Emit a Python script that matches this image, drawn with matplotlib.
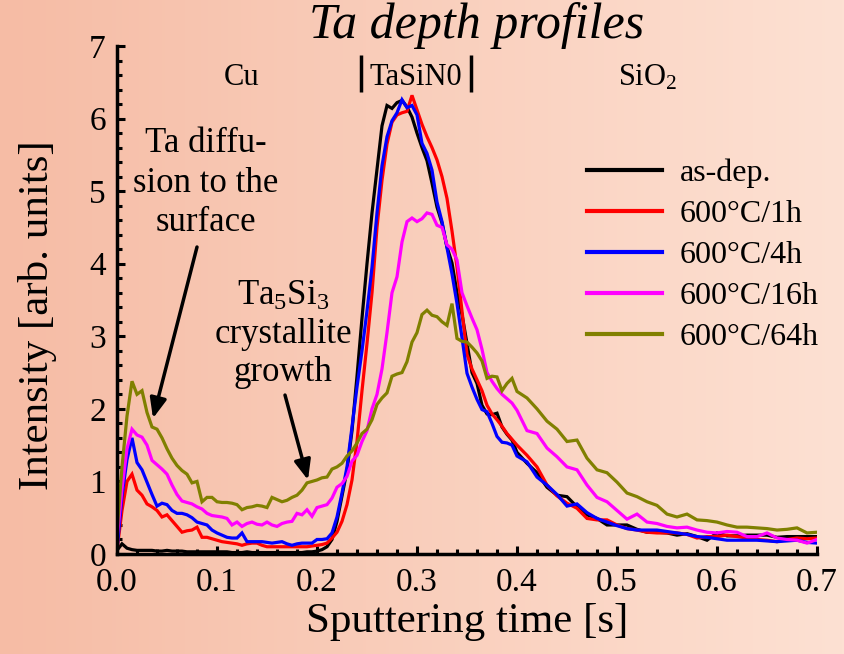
"""Ta depth profiles for TaSiN0 barrier after 600 C anneals."""

import matplotlib

matplotlib.use("Agg")
import matplotlib.pyplot as plt
import numpy as np

plt.rcParams["font.family"] = ["Liberation Serif", "DejaVu Serif"]
plt.rcParams["mathtext.fontset"] = "custom"
plt.rcParams["mathtext.rm"] = "Liberation Serif"
plt.rcParams["mathtext.it"] = "Liberation Serif:italic"

# sputtering time grid [s]: fine steps up to 0.4 s, then 0.01 s
time_s = np.r_[np.arange(0.0, 0.4001, 0.005), np.arange(0.41, 0.7001, 0.01)]

as_dep = [
    0.05, 0.14, 0.08, 0.06, 0.05, 0.05, 0.05, 0.05, 0.04, 0.04,
    0.05, 0.04, 0.04, 0.04, 0.03, 0.03, 0.03, 0.03, 0.03, 0.03,
    0.03, 0.03, 0.03, 0.02, 0.02, 0.02, 0.03, 0.02, 0.02, 0.02,
    0.02, 0.02, 0.02, 0.02, 0.02, 0.02, 0.02, 0.02, 0.03, 0.03,
    0.04, 0.06, 0.10, 0.20, 0.45, 0.80, 1.15, 1.70, 2.45, 3.25,
    4.00, 4.70, 5.30, 5.90, 6.18, 6.14, 6.22, 6.25, 6.16, 6.02,
    5.80, 5.60, 5.42, 5.11, 4.78, 4.56, 4.23, 4.01, 3.60, 3.30,
    2.90, 2.50, 2.35, 2.05, 1.93, 1.92, 1.94, 1.75, 1.65, 1.57,
    1.40,
    1.25, 1.12, 0.92, 0.81, 0.79, 0.65, 0.54, 0.49, 0.40, 0.40,
    0.40, 0.34, 0.30, 0.30, 0.29, 0.26, 0.28, 0.24, 0.19, 0.29,
    0.25, 0.25, 0.26, 0.26, 0.26, 0.23, 0.24, 0.24, 0.24, 0.24,
]

anneal_1h = [
    0.05, 0.60, 1.00, 1.10, 0.88, 0.81, 0.69, 0.65, 0.60, 0.51,
    0.54, 0.46, 0.38, 0.30, 0.32, 0.33, 0.37, 0.23, 0.23, 0.21,
    0.19, 0.17, 0.16, 0.15, 0.14, 0.12, 0.14, 0.15, 0.15, 0.12,
    0.10, 0.10, 0.10, 0.10, 0.10, 0.10, 0.10, 0.10, 0.10, 0.11,
    0.12, 0.13, 0.15, 0.22, 0.30, 0.45, 0.68, 1.02, 1.55, 2.25,
    2.90, 3.60, 4.50, 5.15, 5.65, 5.95, 6.05, 6.08, 6.10, 6.32,
    6.12, 5.92, 5.75, 5.60, 5.43, 5.20, 4.90, 4.45, 3.95, 3.35,
    2.75, 2.55, 2.40, 2.25, 2.05, 1.93, 1.85, 1.76, 1.66, 1.58,
    1.50,
    1.36, 1.20, 0.95, 0.80, 0.70, 0.63, 0.49, 0.47, 0.47, 0.40,
    0.35, 0.33, 0.30, 0.29, 0.29, 0.29, 0.27, 0.22, 0.24, 0.24,
    0.26, 0.24, 0.22, 0.20, 0.19, 0.17, 0.20, 0.22, 0.21, 0.22,
]

anneal_4h = [
    0.05, 0.80, 1.30, 1.60, 1.26, 1.16, 0.99, 0.82, 0.66, 0.70,
    0.68, 0.60, 0.56, 0.56, 0.54, 0.50, 0.44, 0.42, 0.40, 0.33,
    0.29, 0.26, 0.23, 0.22, 0.22, 0.29, 0.17, 0.17, 0.17, 0.17,
    0.16, 0.15, 0.16, 0.17, 0.14, 0.12, 0.14, 0.15, 0.15, 0.15,
    0.20, 0.20, 0.21, 0.29, 0.51, 0.84, 1.20, 1.75, 2.30, 2.80,
    3.35, 3.95, 4.70, 5.35, 5.75, 5.97, 6.08, 6.26, 6.15, 6.18,
    6.05, 5.66, 5.52, 5.29, 4.85, 4.58, 4.22, 3.86, 3.45, 2.98,
    2.49, 2.30, 2.13, 1.99, 1.96, 1.80, 1.62, 1.54, 1.53, 1.50,
    1.35,
    1.27, 1.06, 0.95, 0.82, 0.66, 0.69, 0.57, 0.49, 0.44, 0.39,
    0.35, 0.33, 0.33, 0.33, 0.31, 0.29, 0.27, 0.24, 0.23, 0.21,
    0.19, 0.19, 0.19, 0.19, 0.18, 0.17, 0.18, 0.19, 0.16, 0.15,
]

anneal_16h = [
    0.19, 0.90, 1.45, 1.72, 1.64, 1.61, 1.50, 1.29, 1.23, 1.17,
    1.10, 0.95, 0.82, 0.73, 0.71, 0.69, 0.65, 0.62, 0.56, 0.53,
    0.52, 0.51, 0.49, 0.40, 0.44, 0.38, 0.42, 0.44, 0.41, 0.40,
    0.44, 0.40, 0.38, 0.42, 0.44, 0.45, 0.56, 0.54, 0.61, 0.52,
    0.64, 0.66, 0.68, 0.77, 0.92, 0.97, 1.07, 1.28, 1.36, 1.55,
    1.70, 2.00, 2.20, 2.55, 3.05, 3.60, 3.82, 4.30, 4.58, 4.63,
    4.58, 4.62, 4.70, 4.68, 4.53, 4.50, 4.26, 4.20, 4.05, 3.60,
    3.42, 3.25, 3.09, 2.82, 2.50, 2.38, 2.28, 2.20, 2.14, 2.08,
    1.98,
    1.70, 1.66, 1.46, 1.34, 1.20, 1.16, 0.95, 0.78, 0.72, 0.60,
    0.48, 0.55, 0.44, 0.42, 0.38, 0.36, 0.37, 0.33, 0.30, 0.29,
    0.31, 0.30, 0.24, 0.24, 0.29, 0.22, 0.20, 0.19, 0.15, 0.20,
]

anneal_64h = [
    0.30, 1.20, 1.90, 2.38, 2.20, 2.25, 1.95, 1.75, 1.72, 1.60,
    1.45, 1.32, 1.22, 1.15, 1.10, 0.98, 1.00, 0.72, 0.78, 0.78,
    0.72, 0.71, 0.71, 0.70, 0.68, 0.61, 0.64, 0.65, 0.67, 0.66,
    0.64, 0.78, 0.75, 0.72, 0.74, 0.78, 0.81, 0.88, 0.98, 1.00,
    1.02, 1.05, 1.06, 1.17, 1.20, 1.25, 1.35, 1.42, 1.53, 1.66,
    1.72, 1.85, 2.06, 2.15, 2.22, 2.45, 2.48, 2.50, 2.65, 2.92,
    3.05, 3.30, 3.36, 3.29, 3.27, 3.20, 3.15, 3.45, 2.97, 2.93,
    2.92, 2.85, 2.77, 2.66, 2.42, 2.45, 2.44, 2.25, 2.35, 2.42,
    2.24,
    2.15, 2.00, 1.83, 1.72, 1.55, 1.57, 1.32, 1.16, 1.12, 0.99,
    0.84, 0.79, 0.72, 0.67, 0.55, 0.51, 0.55, 0.47, 0.46, 0.44,
    0.40, 0.37, 0.37, 0.36, 0.35, 0.33, 0.34, 0.36, 0.29, 0.30,
]

labels = ["as-dep.", "600°C/1h", "600°C/4h", "600°C/16h", "600°C/64h"]
colors = ["black", "#ff0000", "#0000ff", "#ff00ff", "#808000"]

# TaSiN0 layer boundary markers (time positions)
layer_bounds = [0.244, 0.354]


fig = plt.figure(figsize=(8.45, 6.54), dpi=100)

# salmon-to-peach horizontal background gradient
bg = fig.add_axes([0, 0, 1, 1], zorder=-10)
left_rgb = np.array([246, 188, 165]) / 255
right_rgb = np.array([253, 225, 211]) / 255
frac = np.linspace(0, 1, 256)[None, :, None]
bg.imshow(left_rgb + (right_rgb - left_rgb) * frac, aspect="auto", extent=(0, 1, 0, 1))
bg.axis("off")

ax = fig.add_axes([117 / 845, 1 - 554 / 654, 700 / 845, 508 / 654])
ax.patch.set_alpha(0)

series = [as_dep, anneal_1h, anneal_4h, anneal_16h, anneal_64h]
for values, label, color in zip(series, labels, colors):
    ax.plot(time_s, values, color=color, lw=2.3, label=label, solid_joinstyle="miter")

ax.set_xlim(0, 0.7)
ax.set_ylim(0, 7)
ax.set_xticks(np.arange(0, 0.71, 0.1))
ax.set_xticklabels([f"{v:.1f}" for v in np.arange(0, 0.71, 0.1)])
ax.set_yticks(range(8))
ax.set_xticks(np.arange(0, 0.701, 0.02), minor=True)
ax.set_yticks(np.arange(0, 7.01, 0.2), minor=True)

for side in ["top", "right"]:
    ax.spines[side].set_visible(False)
for side in ["left", "bottom"]:
    ax.spines[side].set_linewidth(2.5)
ax.tick_params(which="major", direction="in", length=6, width=2.2, labelsize=24)
ax.tick_params(which="minor", direction="in", length=3.5, width=2.2)
ax.tick_params(axis="x", which="major", pad=10)
ax.tick_params(axis="y", which="major", pad=8)

ax.set_xlabel("Sputtering time [s]", fontsize=31)
ax.xaxis.set_label_coords(0.5, -0.095)
ax.set_ylabel("Intensity [arb. units]", fontsize=31)
ax.yaxis.set_label_coords(-0.085, 0.47)

fig.text(477 / 845, 1 - 38 / 654, "Ta depth profiles", fontsize=36, style="italic",
         ha="center", va="baseline")

# layer labels above the profiles
ax.text(0.125, 6.46, "Cu", fontsize=22, ha="center", va="baseline")
ax.text(0.299, 6.46, "TaSiN0", fontsize=22, ha="center", va="baseline")
ax.text(0.531, 6.46, "SiO$_2$", fontsize=22, ha="center", va="baseline")
ax.vlines(layer_bounds, 6.36, 6.87, colors="black", lw=2.5, clip_on=False)

ax.text(0.089, 5.11, "Ta diffu-\nsion to the\nsurface", fontsize=25, ha="center",
        va="center", linespacing=1.25)
ax.text(0.166, 3.02, "Ta$_5$Si$_3$\ncrystallite\ngrowth", fontsize=25, ha="center",
        va="center", linespacing=1.2)

arrow_style = dict(arrowstyle="-|>,head_length=0.6,head_width=0.25", lw=2.5,
                   color="black", mutation_scale=20, shrinkA=0, shrinkB=0)
ax.annotate("", xy=(0.036, 1.87), xytext=(0.080, 4.23), arrowprops=arrow_style)
ax.annotate("", xy=(0.191, 1.02), xytext=(0.168, 2.19), arrowprops=arrow_style)

leg = ax.legend(loc="upper left", bbox_to_anchor=(587 / 845, 1 - 159 / 654),
                bbox_transform=fig.transFigure, frameon=False, fontsize=23,
                handlelength=2.35, handletextpad=0.55, labelspacing=0.36,
                borderpad=0, borderaxespad=0)
for line in leg.get_lines():
    line.set_linewidth(3)

fig.savefig("out.png", dpi=100)
